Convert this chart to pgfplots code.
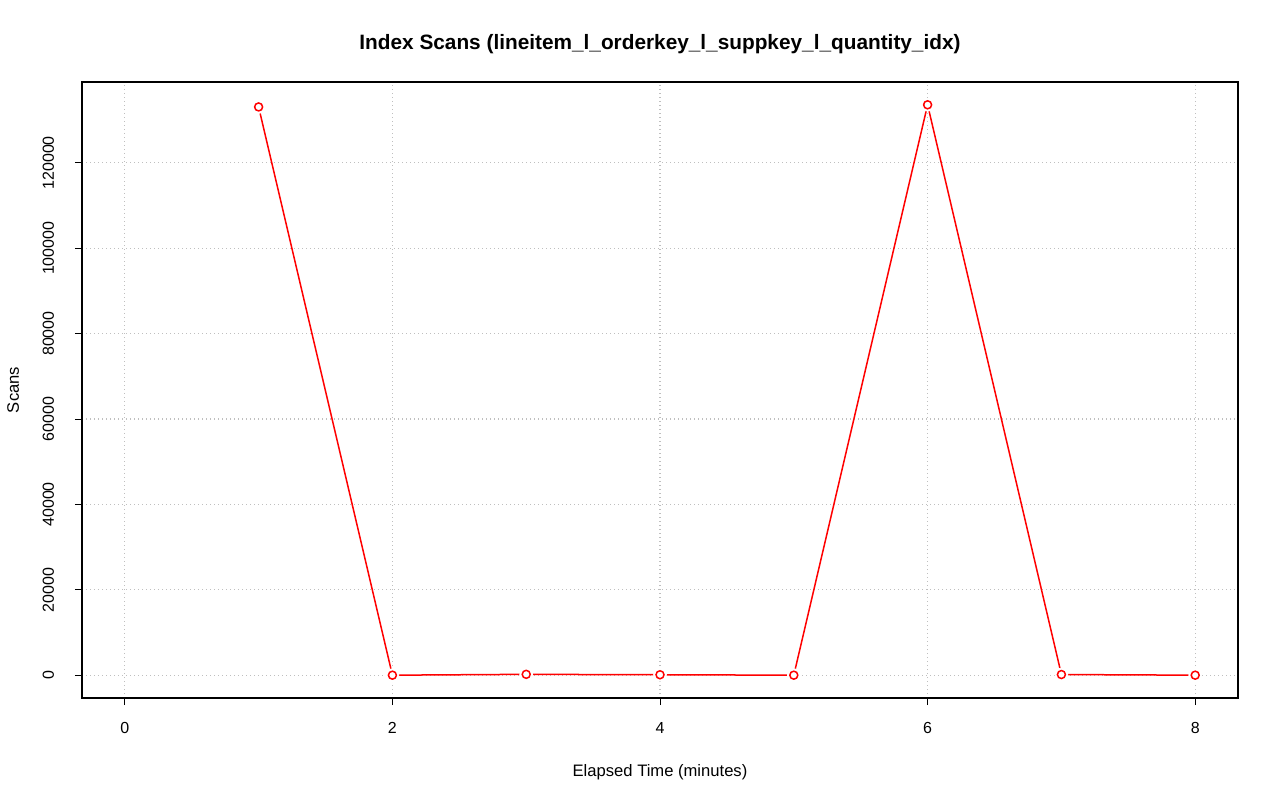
\documentclass[border=0pt]{standalone}
\usepackage{pgfplots}
\pgfplotsset{compat=1.18}
\usepackage{fontspec}
\setmainfont{Liberation Sans}

\pgfplotstableread{
t scans
1 133100
2 0
3 200
4 100
5 0
6 133600
7 150
8 0
}\scans

\begin{document}
\begin{tikzpicture}
\begin{axis}[
    name=ax,
    scale only axis,
    width=578pt, height=308pt,
    xmin=-0.32, xmax=8.32,
    ymin=-5344, ymax=138944,
    xtick={0,2,4,6,8},
    ytick={0,20000,40000,60000,80000,100000,120000},
    scaled y ticks=false,
    /pgf/number format/assume math mode=true,
    yticklabel={\pgfmathprintnumber[fixed,1000 sep={}]{\tick}},
    tick align=outside,
    tick pos=left,
    major tick length=3.5pt,
    tick style={black, line width=0.5pt},
    axis line style={black, line width=0.8pt},
    grid=major,
    major grid style={lightgray, line width=0.6pt, dash pattern=on 0.5pt off 1.5pt},
    ticklabel style={font=\fontsize{8}{10}\selectfont},
    xticklabel style={anchor=base, yshift=-14pt},
    yticklabel style={rotate=90, anchor=base, yshift=10.5pt},
    title={\textbf{Index Scans (lineitem\_l\_orderkey\_l\_suppkey\_l\_quantity\_idx)}},
    title style={font=\fontsize{10.4}{12}\selectfont, at={(axis description cs:0.5,1)}, anchor=base, yshift=10pt},
    xlabel={Elapsed Time (minutes)},
    xlabel style={font=\fontsize{8.3}{10}\selectfont, at={(axis description cs:0.5,0)}, anchor=base, yshift=-39pt},
    ylabel={Scans},
    ylabel style={font=\fontsize{8.3}{10}\selectfont, at={(axis description cs:0,0.5)}, anchor=base, yshift=31.5pt},
]
\addplot[red, line width=0.75pt] table[x=t, y=scans] {\scans};
\addplot[only marks, mark=*, mark size=3.2pt, white, mark options={fill=white, draw=white}] table[x=t, y=scans] {\scans};
\addplot[only marks, mark=o, red, mark size=2pt, mark options={line width=0.75pt}] table[x=t, y=scans] {\scans};
\end{axis}
\pgfresetboundingbox
\path ([shift={(-41pt,-51.5pt)}]ax.south west) rectangle ([shift={(21pt,41pt)}]ax.north east);
\end{tikzpicture}
\end{document}
